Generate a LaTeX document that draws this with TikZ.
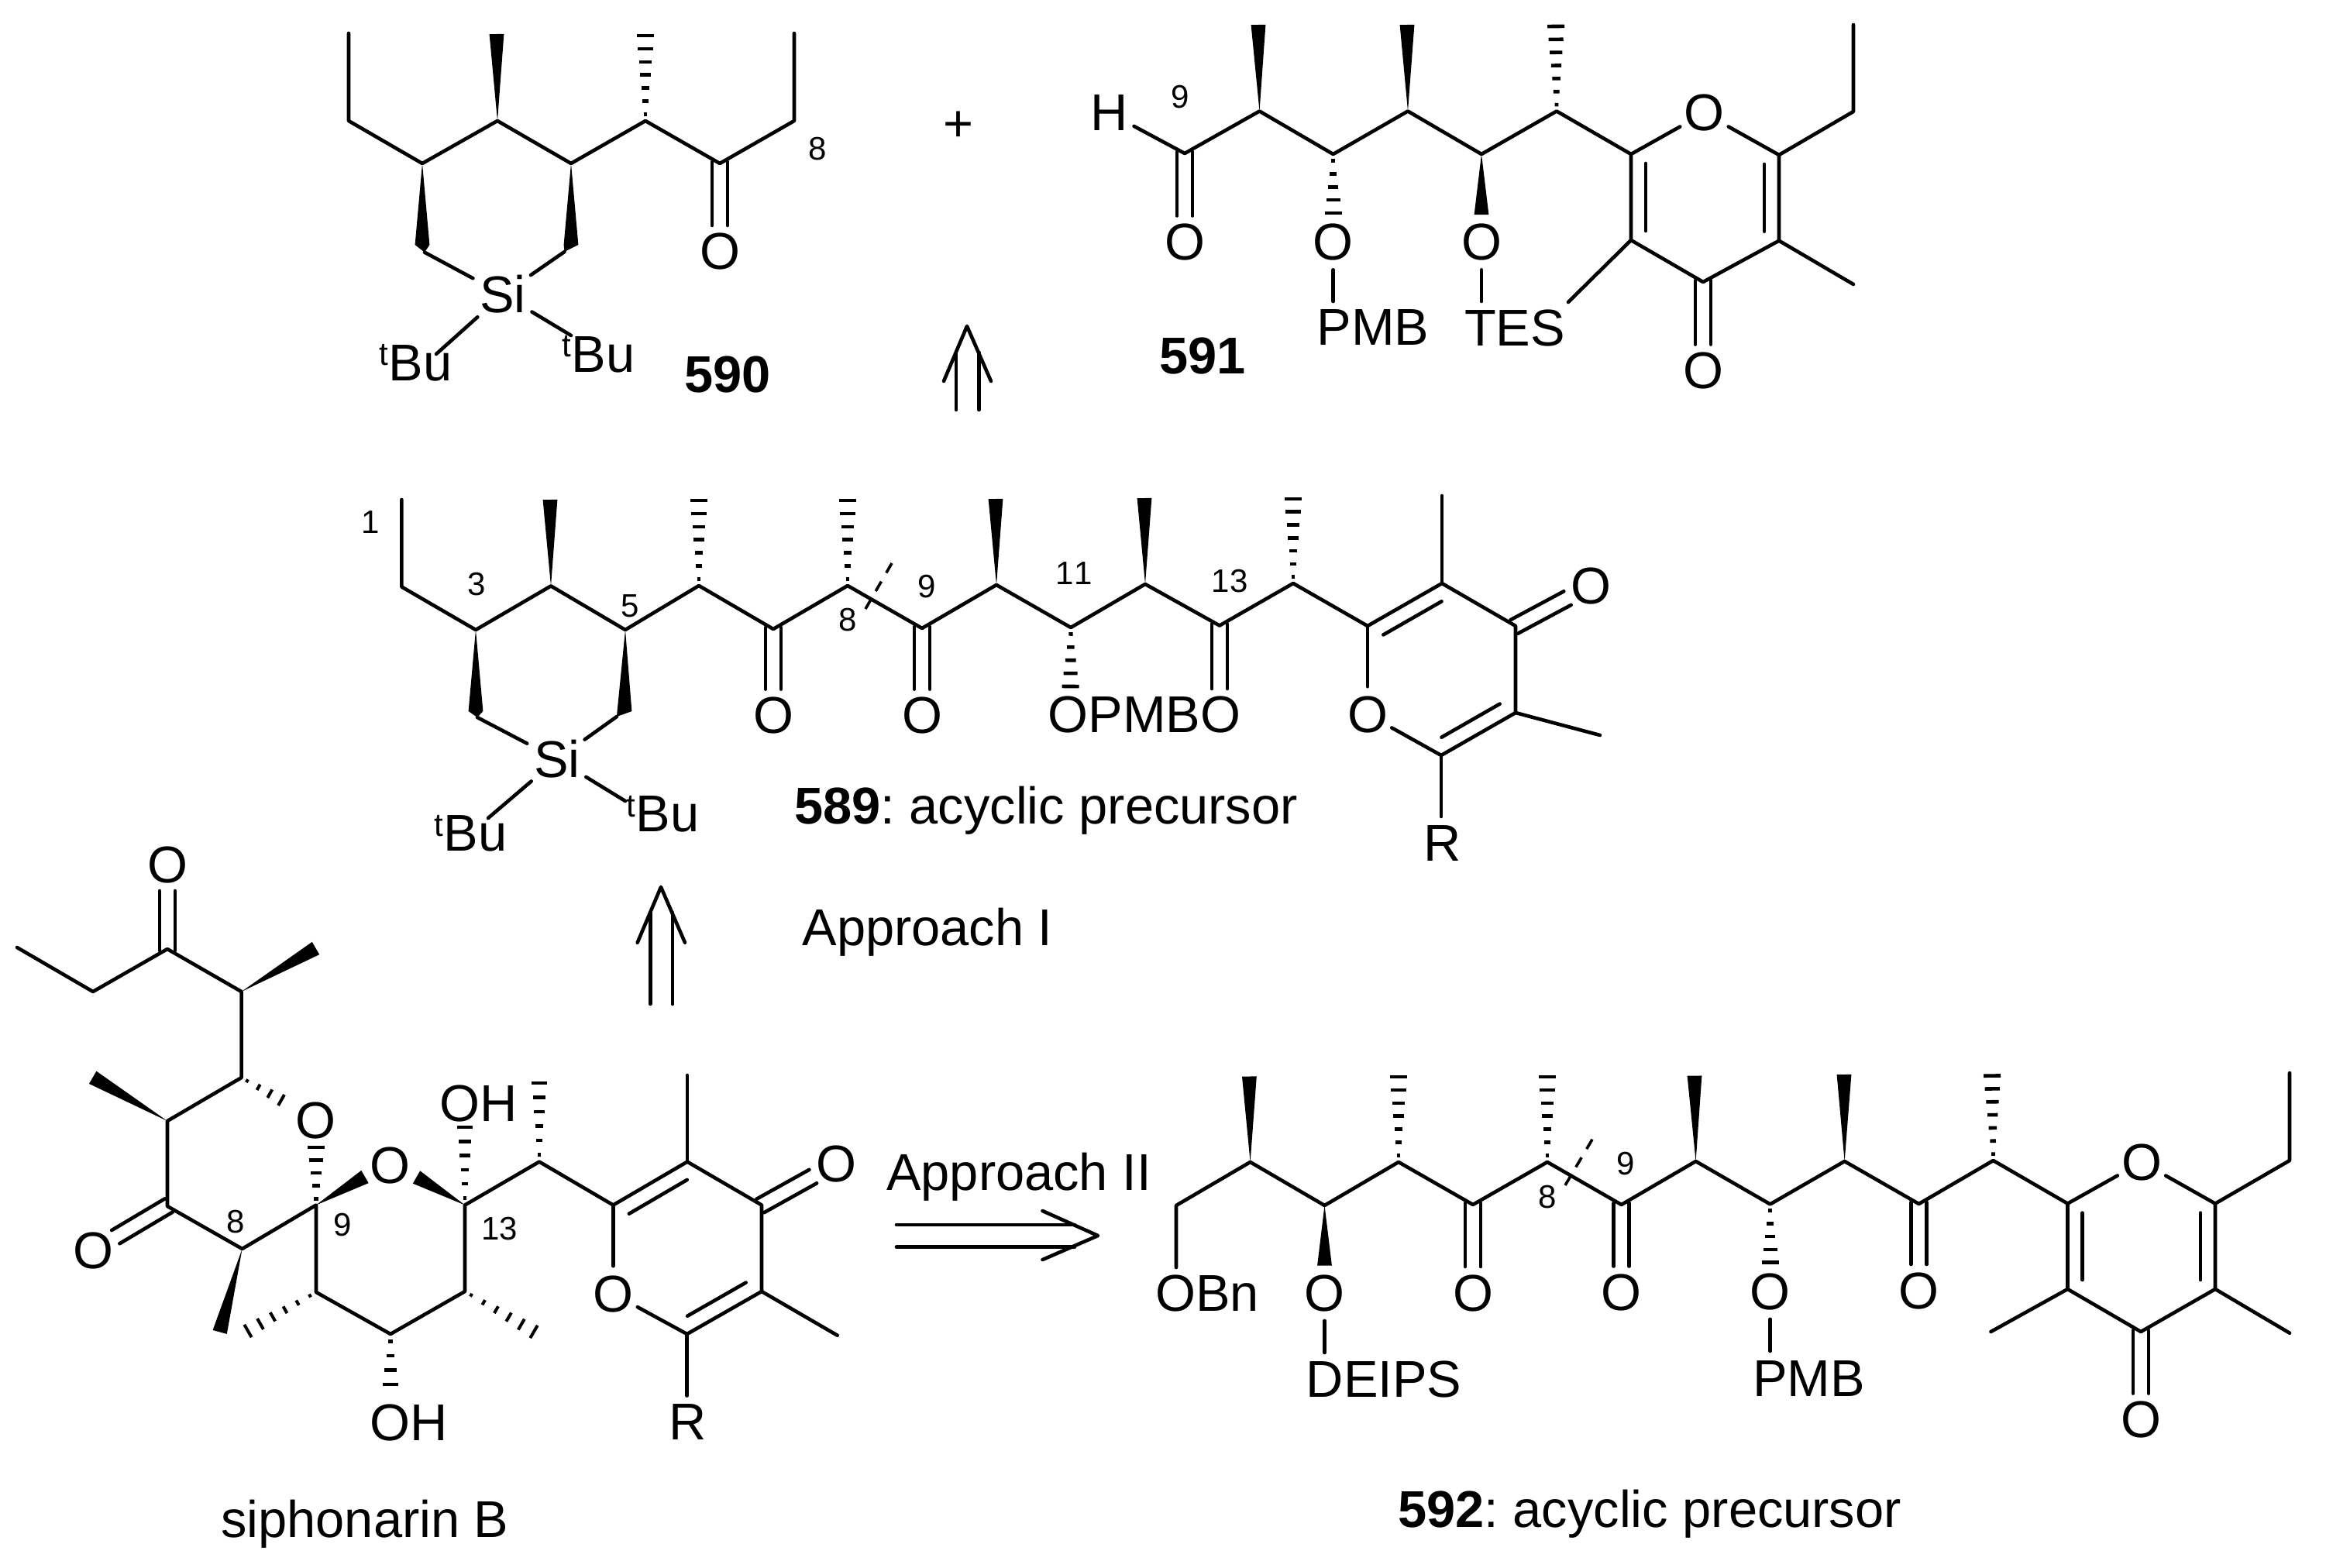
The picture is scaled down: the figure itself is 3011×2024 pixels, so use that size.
\documentclass[tikz,border=0pt]{standalone}
\usepackage{fontspec}
\setmainfont[Kerning=Off]{Liberation Sans}
\usetikzlibrary{calc}
\newcommand\mainsz{\fontsize{16.7}{20}\selectfont}
\newcommand\smallsz{\fontsize{10.5}{12}\selectfont}
\newcommand\cdn[3]{\coordinate (#1) at (#2,#3);}
\newcommand\atom[4]{\node[atomn] (#1) at (#2,#3) {#4};}
\newcommand\siatom[3]{\node[atomn,minimum size=21.5pt] (#1) at (#2,#3) {Si};}
\newcommand\txt[4]{\node[lbl] (#1) at (#2,#3) {#4};}
\newcommand\btxt[4]{\node[lbl,anchor=base] (#1) at (#2,#3) {\frenchspacing #4};}
\newcommand\num[4]{\node[lbl,font=\smallsz] (#1) at (#2,#3) {#4};}
\newcommand\tbu[3]{\node[lbl,anchor=base east] (#1) at (#2,#3) {\raisebox{4.8pt}{\smallsz t}Bu};}
\newcommand\wedgeb[2]{\fill ($(#1)$) -- ($(#2)!2.35pt!90:(#1)$) -- ($(#2)!2.35pt!-90:(#1)$) -- cycle;}
\newcommand\wedgev[3]{\fill ($(#1)$) -- ($(#2)!2.35pt!90:(#1)$) -- ($(#3)$) -- ($(#2)!2.35pt!-90:(#1)$) -- cycle;}
\newcommand\hashb[5]{\foreach \hk in {1,...,#3}{%
  \pgfmathsetmacro\hft{(\hk-0.5)/(#3-0.5)}%
  \pgfmathsetmacro\hhw{#4/2*(0.15+0.85*\hft)}%
  \coordinate (hc) at ($(#1)!\hft!(#2)$);%
  \draw[line width=#5] ($(hc)!\hhw pt!90:(#1)$) -- ($(hc)!\hhw pt!-90:(#1)$);%
}}
\newcommand\hsh[3]{\hashb{#1}{#2}{#3}{5.5}{1.15pt}}
\newcommand\co[2]{%
  \draw[bond,shorten <=-0.5pt,shorten >=8.5pt] ($(#1)!2.5pt!90:(#2)$) -- ($(#2)!2.5pt!-90:(#1)$);
  \draw[bond,shorten <=-0.5pt,shorten >=8.5pt] ($(#1)!2.5pt!-90:(#2)$) -- ($(#2)!2.5pt!90:(#1)$);}
\newcommand\inr[3]{\draw[bond,shorten <=3pt,shorten >=3pt] ($(#1)!#3!90:(#2)$) -- ($(#2)!#3!-90:(#1)$);}
\tikzset{
  bond/.style={line width=1.15pt,line cap=round,line join=round},
  atomn/.style={circle,inner sep=0pt,minimum size=17.5pt,font=\mainsz},
  lbl/.style={inner sep=0pt,font=\mainsz},
  cutline/.style={line width=0.9pt,dash pattern=on 3.6pt off 3.2pt},
}
\begin{document}
\begin{tikzpicture}[x=0.25pt,y=-0.25pt]
\fill[white] (0,0) rectangle (3011,2024);
\useasboundingbox (0,0) rectangle (3011,2024);
%% ---------- 590
\cdn{a1}{450}{43}\cdn{a2}{450}{156}\cdn{a3}{545}{211}\cdn{a4}{642}{156}\cdn{a5}{737}{211}
\cdn{a6}{833}{156}\cdn{a7}{929}{211}\cdn{a8}{1025}{156}\cdn{a9}{1025}{43}
\cdn{a4t}{641}{44}\cdn{a6t}{833}{46}
\cdn{a3b}{545}{316}\cdn{a3v}{548}{325.7}\cdn{a5b}{737}{316}\cdn{a5v}{728.5}{325}
\atom{Oa}{929}{325}{O}
\siatom{Sia}{649}{380}
\cdn{tba}{563}{457}\cdn{tbb}{737}{433}
\draw[bond] (a1)--(a2)--(a3)--(a4)--(a5)--(a6)--(a7)--(a8)--(a9);
\wedgeb{a4}{a4t}
\hsh{a6}{a6t}{7}
\co{a7}{Oa}
\wedgev{a3}{a3b}{a3v}
\wedgev{a5}{a5b}{a5v}
\draw[bond] (a3v)--(Sia);
\draw[bond] (a5v)--(Sia);
\draw[bond] (Sia)--(tba);
\draw[bond] (Sia)--(tbb);
\tbu{Tba}{584}{491}
\tbu{Tbb}{820}{480}
\num{n8a}{1055}{192}{8}
\txt{n590}{939}{483}{\textbf{590}}
\node[lbl] (plus) at (1237,163) {+};
%% retro arrow 1
\cdn{ra1}{1234}{529}\cdn{ra2}{1234}{455}\cdn{ra3}{1263.5}{529}\cdn{ra4}{1263.5}{455}
\cdn{ra5}{1218}{492}\cdn{ra6}{1248}{421}\cdn{ra7}{1279}{492}
\draw[bond] (ra1)--(ra2);\draw[bond] (ra3)--(ra4);\draw[bond] (ra5)--(ra6)--(ra7);
%% ---------- 591
\atom{Hb}{1432}{146}{H}
\cdn{b3}{1529}{198}\cdn{b4}{1625.5}{143.5}\cdn{b4t}{1624}{32}\cdn{b5}{1720.6}{199}
\cdn{b6}{1817}{143.5}\cdn{b6t}{1816}{32}\cdn{b7}{1912}{199}\cdn{b8}{2009}{143.5}\cdn{b8t}{2008}{34}
\cdn{b9}{2105}{199}\cdn{b10}{2296}{200}\cdn{b11}{2392}{144}\cdn{b12}{2392}{32}
\cdn{b13}{2296}{310.7}\cdn{b14}{2392}{367}\cdn{b15}{2198}{364}\cdn{b16}{2105}{310}
\cdn{b5h}{1720.6}{275}\cdn{b7w}{1912}{277}
\cdn{p1}{1720.6}{389}\cdn{p2}{1912}{389}\cdn{p3}{2024}{390}
\atom{Ob1}{2199.5}{146}{O}
\atom{Ob2}{1529}{312.5}{O}
\atom{Ob3}{1720.6}{312.5}{O}
\atom{Ob4}{1912}{312.5}{O}
\atom{Ob5}{2198}{478.6}{O}
\txt{PMBb}{1772}{423}{PMB}
\txt{TESb}{1955}{423}{TES}
\draw[bond] (Hb)--(b3)--(b4)--(b5)--(b6)--(b7)--(b8)--(b9)--(Ob1);
\draw[bond] (Ob1)--(b10)--(b11)--(b12);
\draw[bond] (b10)--(b13)--(b15)--(b16)--(b9);
\draw[bond] (b13)--(b14);
\draw[bond] (b16)--(p3);
\inr{b9}{b16}{4.75pt}
\inr{b10}{b13}{-4.75pt}
\co{b3}{Ob2}
\co{b15}{Ob5}
\wedgeb{b4}{b4t}\wedgeb{b6}{b6t}
\hsh{b8}{b8t}{7}
\hsh{b5}{b5h}{5}
\wedgeb{b7}{b7w}
\draw[bond] (Ob3)--(p1);
\draw[bond] (Ob4)--(p2);
\num{n9b}{1523}{125}{9}
\txt{n591}{1552}{460}{\textbf{591}}
%% ---------- 589
\cdn{c1}{518.4}{645}\cdn{c2}{518.4}{757.5}\cdn{c3}{614}{813}\cdn{c4}{711}{756.4}\cdn{c4t}{710}{645}
\cdn{c5}{807}{813}\cdn{c6}{902}{756}\cdn{c6t}{902}{646}\cdn{c7}{998}{812}\cdn{c8}{1094}{756}\cdn{c8t}{1094}{646}
\cdn{c9}{1190}{811}\cdn{c10}{1286}{755}\cdn{c10t}{1285}{644}\cdn{c11}{1382}{810}\cdn{c12}{1478}{754}\cdn{c12t}{1477}{643}
\cdn{c13}{1574}{807.5}\cdn{c14}{1669}{753}\cdn{c14t}{1669}{644}\cdn{c15}{1765}{808}\cdn{c16}{1861}{753}\cdn{c16t}{1861}{640}
\cdn{c17}{1956}{808}\cdn{c18}{1956}{920}\cdn{c19}{2065}{949}\cdn{c20}{1860}{975}\cdn{r1}{1860}{1054}
\cdn{c3b}{614}{918}\cdn{c3v}{616}{926}\cdn{c5b}{806}{918}\cdn{c5v}{796}{925}
\cdn{c11h}{1381.5}{886}\cdn{Oc3}{1574}{923}
\cdn{tbc}{630}{1056}\cdn{tbd}{807}{1034}
\cdn{cuta}{1151}{727}\cdn{cutb}{1117}{786}
\atom{Oc1}{998}{923.6}{O}
\atom{Oc2}{1190}{923.6}{O}
\atom{Oc4}{1765}{922}{O}
\atom{Oc5}{2053}{756}{O}
\atom{Rc}{1862}{1089}{R}
\txt{OPMBO}{1477}{922.5}{OPMBO}
\siatom{Sic}{719}{980}
\draw[bond] (c1)--(c2)--(c3)--(c4)--(c5)--(c6)--(c7)--(c8)--(c9)--(c10)--(c11)--(c12)--(c13)--(c14)--(c15)--(c16)--(c17)--(c18)--(c20);
\draw[bond] (c16)--(c16t);
\draw[bond] (c18)--(c19);
\draw[bond] (c15)--(Oc4);
\draw[bond] (Oc4)--(c20);
\draw[bond] (c20)--(r1);
\inr{c15}{c16}{-5pt}
\inr{c20}{c18}{5pt}
\co{c17}{Oc5}
\co{c7}{Oc1}\co{c9}{Oc2}\co{c13}{Oc3}
\wedgeb{c4}{c4t}\wedgeb{c10}{c10t}\wedgeb{c12}{c12t}
\hsh{c6}{c6t}{7}\hsh{c8}{c8t}{7}\hsh{c14}{c14t}{7}\hsh{c11}{c11h}{5}
\wedgev{c3}{c3b}{c3v}\wedgev{c5}{c5b}{c5v}
\draw[bond] (c3v)--(Sic);
\draw[bond] (c5v)--(Sic);
\draw[bond] (Sic)--(tbc);
\draw[bond] (Sic)--(tbd);
\tbu{Tbc}{655}{1098.6}
\tbu{Tbd}{903}{1073.6}
\draw[cutline] (cuta)--(cutb);
\num{n1c}{478}{673.6}{1}\num{n3c}{615}{754}{3}\num{n5c}{813}{782.5}{5}\num{n8c}{1094}{800}{8}
\num{n9c}{1196}{757}{9}\num{n11c}{1386}{740}{11}\num{n13c}{1587}{750}{13}
\btxt{t589}{1350}{1063}{\textbf{589}: acyclic precursor}
%% retro arrow 2
\cdn{rb1}{839.3}{1296}\cdn{rb2}{839.3}{1178}\cdn{rb3}{868}{1296}\cdn{rb4}{868}{1178}
\cdn{rb5}{822.7}{1216.7}\cdn{rb6}{853}{1145}\cdn{rb7}{884}{1216.7}
\draw[bond] (rb1)--(rb2);\draw[bond] (rb3)--(rb4);\draw[bond] (rb5)--(rb6)--(rb7);
\btxt{apI}{1197}{1220.7}{Approach I}
%% ---------- siphonarin B
\cdn{d1}{22}{1223}\cdn{d2}{120}{1280}\cdn{d3}{216}{1225}\cdn{d4}{311.6}{1280}\cdn{d4t}{407.5}{1224}
\cdn{d5}{311.6}{1391}\cdn{d5h}{363}{1420}\cdn{d6}{216}{1447}\cdn{d6t}{119.7}{1390.8}\cdn{d7}{216}{1557}
\cdn{d8}{312.6}{1612}\cdn{d8t}{283.7}{1719.4}\cdn{d9}{408}{1555.5}\cdn{d9h}{408}{1481}\cdn{d9w}{471}{1519}
\cdn{d13}{600}{1555.5}\cdn{d13w}{537.5}{1519.5}\cdn{d13h}{600}{1455}\cdn{d14}{696}{1499.6}\cdn{d14h}{696}{1398}
\cdn{d15}{791.4}{1555.5}\cdn{d16}{887}{1499.6}\cdn{d16t}{887}{1388}\cdn{d17}{983}{1555.5}\cdn{d18}{983}{1667}
\cdn{d19}{1080.7}{1723.7}\cdn{d20}{886.7}{1722}\cdn{r2}{886.7}{1801.6}
\cdn{d21}{408}{1668}\cdn{d21h}{320}{1718}\cdn{d22}{504}{1722}\cdn{d22h}{504}{1787}\cdn{d23}{600}{1667}\cdn{d23h}{689}{1719}
\atom{Od1}{216}{1116}{O}
\atom{Od2}{120}{1614}{O}
\atom{Od3}{407}{1446}{O}
\atom{Od4}{503}{1504}{O}
\atom{Od5}{1079}{1502}{O}
\atom{Od6}{791.4}{1670}{O}
\atom{Rd}{888}{1836}{R}
\txt{OHd1}{618}{1424}{OH}
\txt{OHd2}{527.5}{1836}{OH}
\draw[bond] (d1)--(d2)--(d3)--(d4)--(d5)--(d6)--(d7)--(d8)--(d9)--(d21)--(d22)--(d23)--(d13)--(d14)--(d15)--(d16)--(d17)--(d18)--(d20);
\draw[bond] (d16)--(d16t);
\draw[bond] (d18)--(d19);
\draw[bond] (d15)--(Od6);
\draw[bond] (Od6)--(d20);
\draw[bond] (d20)--(r2);
\inr{d15}{d16}{-5pt}
\inr{d20}{d18}{5pt}
\co{d3}{Od1}\co{d7}{Od2}\co{d17}{Od5}
\wedgeb{d4}{d4t}\wedgeb{d6}{d6t}\wedgeb{d8}{d8t}\wedgeb{d9}{d9w}\wedgeb{d13}{d13w}
\hashb{d5}{d5h}{4}{4}{1pt}
\hsh{d9}{d9h}{5}
\hashb{d13}{d13h}{6}{5}{1.15pt}
\hashb{d14}{d14h}{6}{5}{1.15pt}
\hashb{d22}{d22h}{4}{5}{1.15pt}
\hashb{d21}{d21h}{6}{4.7}{1pt}
\hashb{d23}{d23h}{6}{4.7}{1pt}
\num{n8d}{304.5}{1577}{8}\num{n9d}{442}{1581}{9}\num{n13d}{644.5}{1586}{13}
\btxt{tsb}{471}{1984}{siphonarin B}
%% approach II arrow
\cdn{rc1}{1157}{1581}\cdn{rc2}{1387}{1581}\cdn{rc3}{1157}{1609.6}\cdn{rc4}{1387}{1609.6}
\cdn{rc5}{1345.5}{1563}\cdn{rc6}{1417}{1595}\cdn{rc7}{1345.5}{1626}
\draw[bond] (rc1)--(rc2);\draw[bond] (rc3)--(rc4);\draw[bond] (rc5)--(rc6)--(rc7);
\btxt{apII}{1315}{1536}{Approach II}
%% ---------- 592
\cdn{e1}{1518}{1636}\cdn{e2}{1518}{1556}\cdn{e3}{1613.6}{1500}\cdn{e3t}{1612.4}{1389.5}\cdn{e4}{1709.5}{1556}\cdn{e4w}{1709.5}{1633.6}
\cdn{e5}{1805}{1500}\cdn{e5h}{1805}{1390}\cdn{e6}{1901}{1555}\cdn{e7}{1997}{1500}\cdn{e7h}{1997}{1390}\cdn{e8}{2092.6}{1555}
\cdn{e9}{2188.6}{1499}\cdn{e9t}{2187}{1388.6}\cdn{e10}{2284.6}{1554.4}\cdn{e10h}{2284.6}{1629.5}
\cdn{e11}{2380.6}{1499}\cdn{e11t}{2380}{1387}\cdn{e12}{2476.5}{1554}\cdn{e13}{2572.5}{1498}\cdn{e13h}{2571}{1388.6}
\cdn{e14}{2668.5}{1553.6}\cdn{e15}{2859}{1553.6}\cdn{e16}{2955}{1498}\cdn{e17}{2955}{1385}
\cdn{e18}{2668.5}{1664}\cdn{e19}{2569.4}{1719}\cdn{e20}{2763}{1719}\cdn{e21}{2859}{1664}\cdn{e22}{2955}{1720.7}
\cdn{p4}{1709.5}{1746}\cdn{p5}{2284.6}{1744}
\cdn{cutc}{2055}{1470.7}\cdn{cutd}{2019}{1531.7}
\atom{Oe1}{1709.5}{1669}{O}
\atom{Oe2}{1901}{1669}{O}
\atom{Oe3}{2092.6}{1668.5}{O}
\atom{Oe4}{2284.6}{1667}{O}
\atom{Oe5}{2476.5}{1666}{O}
\atom{Oe6}{2764}{1500}{O}
\atom{Oe7}{2763}{1832.6}{O}
\txt{OBn}{1558}{1669}{OBn}
\txt{DEIPS}{1786}{1780}{DEIPS}
\txt{PMBe}{2334.7}{1780}{PMB}
\draw[bond] (e1)--(e2)--(e3)--(e4)--(e5)--(e6)--(e7)--(e8)--(e9)--(e10)--(e11)--(e12)--(e13)--(e14)--(Oe6);
\draw[bond] (Oe6)--(e15)--(e16)--(e17);
\draw[bond] (e14)--(e18)--(e20)--(e21)--(e15);
\draw[bond] (e18)--(e19);
\draw[bond] (e21)--(e22);
\inr{e14}{e18}{4.75pt}
\inr{e15}{e21}{-4.75pt}
\co{e6}{Oe2}\co{e8}{Oe3}\co{e12}{Oe5}\co{e20}{Oe7}
\wedgeb{e3}{e3t}\wedgeb{e4}{e4w}\wedgeb{e9}{e9t}\wedgeb{e11}{e11t}
\hsh{e5}{e5h}{7}\hsh{e7}{e7h}{7}\hsh{e13}{e13h}{7}\hsh{e10}{e10h}{5}
\draw[bond] (Oe1)--(p4);
\draw[bond] (Oe4)--(p5);
\draw[cutline] (cutc)--(cutd);
\num{n8e}{1997}{1545}{8}\num{n9e}{2098}{1502}{9}
\btxt{t592}{2129}{1971}{\textbf{592}: acyclic precursor}
\end{tikzpicture}
\end{document}
